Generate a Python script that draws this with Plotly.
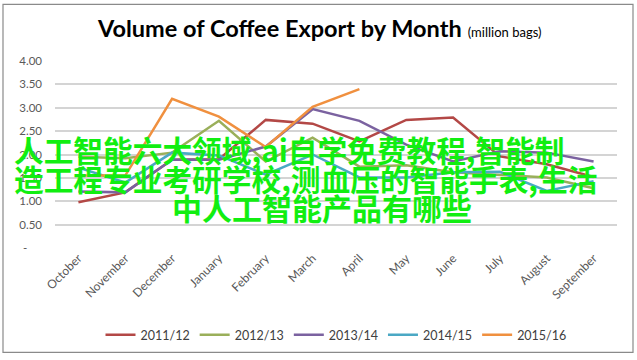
import plotly.graph_objects as go

months = ["October", "November", "December", "January", "February", "March",
          "April", "May", "June", "July", "August", "September"]
series_names = ["2011/12", "2012/13", "2013/14", "2014/15", "2015/16"]
s_2011_12 = [0.98, 1.19, 1.89, 1.90, 2.74, 2.66, 2.28, 2.74, 2.79, 1.96, 1.79, 1.52]
s_2012_13 = [1.95, 1.92, 2.04, 2.72, 1.85, 2.36, 1.74, 1.77, 1.62, 1.57, 1.51, 1.28]
s_2013_14 = [1.21, 1.19, 1.89, 1.89, 2.17, 2.97, 2.72, 2.21, 1.85, 2.07, 2.04, 1.85]
s_2014_15 = [1.72, 1.40, 2.04, 1.98, 1.57, 2.00, 1.51, 1.51, 1.62, 1.63, 1.22, 1.43]
s_2015_16 = [1.55, 1.55, 3.19, 2.81, 2.16, 3.02, 3.40, None, None, None, None, None]
colors = ["#B34846", "#9AAF5A", "#7B62A0", "#4BA8C4", "#F0903F"]
y_tickvals = [0, 0.5, 1.0, 1.5, 2.0, 2.5, 3.0, 3.5, 4.0]
y_ticktext = ["-\u00a0\u00a0\u00a0\u00a0\u00a0", "0.50", "1.00", "1.50", "2.00", "2.50", "3.00", "3.50", "4.00"]
overlay_lines = ["人工智能六大领域,ai自学免费教程,智能制",
                 "造工程专业考研学校,测血压的智能手表,生活",
                 "中人工智能产品有哪些"]

W, H = 637, 360
L, R, T, B = 55, 20, 61, 111
pw, ph = W - L - R, H - T - B

def px(x):
    return (x - L) / pw

def py(y):
    return (H - B - y) / ph

fig = go.Figure()
for name, vals, c in zip(series_names, [s_2011_12, s_2012_13, s_2013_14, s_2014_15, s_2015_16], colors):
    fig.add_trace(go.Scatter(x=months, y=vals, mode="lines", name=name,
                             line=dict(color=c, width=2.5)))

fig.update_layout(
    width=W, height=H,
    margin=dict(l=L, r=R, t=T, b=B),
    paper_bgcolor="white", plot_bgcolor="white",
    font=dict(family="Lato, Open Sans, sans-serif", color="#595959", size=11),
    showlegend=True,
    legend=dict(orientation="h", x=0.5, xanchor="center", y=py(335), yanchor="middle",
                font=dict(size=12.5, color="#404040"), itemwidth=30, tracegroupgap=0),
    xaxis=dict(type="category", range=[-0.5, 11.5], showgrid=False, tickangle=-45,
               showline=False, ticks="", tickfont=dict(size=12, color="#595959")),
    yaxis=dict(range=[0, 4.0], tickvals=y_tickvals, ticktext=y_ticktext,
               showgrid=True, gridcolor="#D4D4D4", gridwidth=1.5, zeroline=False,
               showline=False, ticks="", ticklabelstandoff=12,
               tickfont=dict(size=11.5, color="#595959")),
)

# Title
fig.add_annotation(xref="paper", yref="paper", x=px(319), y=py(28), xanchor="center", yanchor="middle",
                   showarrow=False,
                   text="<b>Volume of Coffee Export by Month</b> <span style='font-size:13px'>(million bags)</span>",
                   font=dict(family="Lato, sans-serif", size=23.5, color="#000000"))

# Outer border
fig.add_shape(type="rect", xref="paper", yref="paper", x0=px(3), x1=px(633), y0=py(354), y1=py(4),
              line=dict(color="#8A8A8A", width=1.2), fillcolor="rgba(0,0,0,0)", layer="below")

# Overlay text
overlay_pos = [(289, 150, 29.7), (305, 179, 29.7), (322, 208, 30)]
for txt, (xc, yc, fs) in zip(overlay_lines, overlay_pos):
    fig.add_annotation(xref="paper", yref="paper", x=px(xc), y=py(yc), xanchor="center", yanchor="middle",
                       showarrow=False, text=txt,
                       font=dict(family="Noto Sans CJK SC", size=fs, color="#11EE11", weight="bold"))

fig.write_html("out.html", config={"displayModeBar": False},
               post_script="document.body.style.margin='0';document.body.style.padding='0';")
